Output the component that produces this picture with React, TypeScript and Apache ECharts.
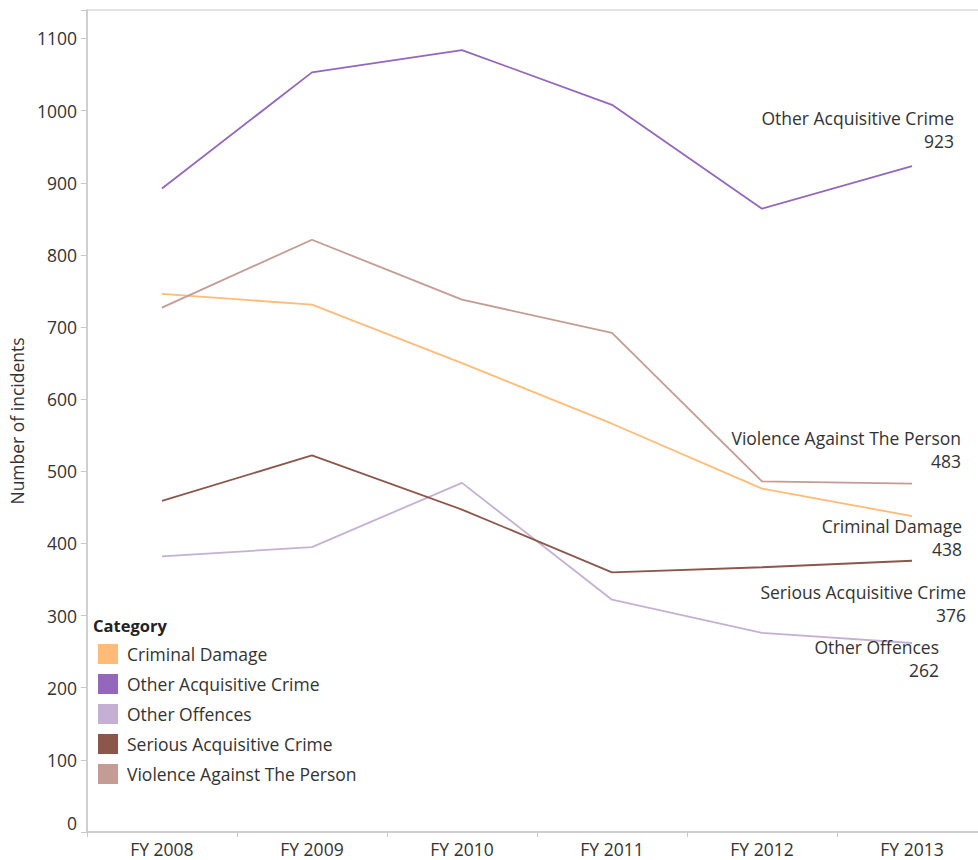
import React, { useEffect, useRef } from "react";
import * as echarts from "echarts";

const categories = ["FY 2008", "FY 2009", "FY 2010", "FY 2011", "FY 2012", "FY 2013"];
const criminalDamage = [746, 731, 650, 566, 476, 438];
const otherAcquisitive = [892, 1053, 1084, 1008, 864, 923];
const otherOffences = [382, 395, 484, 322, 276, 262];
const seriousAcquisitive = [459, 522, 447, 360, 367, 376];
const violenceAgainstPerson = [727, 821, 738, 692, 486, 483];
const yTicks = [0, 100, 200, 300, 400, 500, 600, 700, 800, 900, 1000, 1100];

const FONT = "Open Sans";
const FS = 17.5;
const TEXT = "#333333";
const AXIS = "#c8c8c8";

type S = { name: string; data: number[]; color: string; offset: [number, number] };
const seriesDefs: S[] = [
  { name: "Criminal Damage", data: criminalDamage, color: "#ffbb78", offset: [50, 21] },
  { name: "Other Acquisitive Crime", data: otherAcquisitive, color: "#9467bd", offset: [42, -37] },
  { name: "Other Offences", data: otherOffences, color: "#c5b0d5", offset: [27, 15] },
  { name: "Serious Acquisitive Crime", data: seriousAcquisitive, color: "#8c564b", offset: [54, 43] },
  { name: "Violence Against The Person", data: violenceAgainstPerson, color: "#c49c94", offset: [49, -34] },
];

export default function App() {
  const ref = useRef<HTMLDivElement>(null);
  useEffect(() => {
    if (!ref.current) return;
    const chart = echarts.init(ref.current, undefined, { renderer: "svg" });
    const last = categories.length - 1;
    chart.setOption({
      animation: false,
      backgroundColor: "#ffffff",
      textStyle: { fontFamily: FONT },
      title: {
        text: "Category",
        left: 88,
        top: 612,
        textStyle: { fontFamily: FONT, fontSize: 16.5, fontWeight: "bold", color: "#222" },
      },
      legend: {
        orient: "vertical",
        left: 93,
        top: 639,
        icon: "rect",
        itemWidth: 20,
        itemHeight: 20,
        itemGap: 10,
        textStyle: { fontFamily: FONT, fontSize: FS, color: TEXT, padding: [0, 0, 0, 4] },
        data: seriesDefs.map((s) => s.name),
      },
      grid: {
        left: 86,
        top: 10,
        right: 13,
        bottom: 28,
        show: true,
        borderColor: AXIS,
        borderWidth: 1,
        containLabel: false,
      },
      xAxis: {
        type: "category",
        data: categories,
        boundaryGap: true,
        axisLine: { lineStyle: { color: AXIS, width: 1.5 } },
        axisTick: { show: true, length: 5, lineStyle: { color: AXIS } },
        axisLabel: { fontFamily: FONT, fontSize: FS, color: TEXT, margin: 8 },
      },
      yAxis: {
        type: "value",
        min: 0,
        max: 1139.5,
        interval: 100,
        name: "Number of incidents",
        nameLocation: "middle",
        nameRotate: 90,
        nameGap: 60,
        nameTextStyle: { fontFamily: FONT, fontSize: FS, color: TEXT },
        splitLine: { show: false },
        axisLine: { show: true, lineStyle: { color: AXIS, width: 1.5 } },
        axisTick: { show: true, length: 6, lineStyle: { color: AXIS } },
        axisLabel: {
          fontFamily: FONT,
          fontSize: FS,
          color: TEXT,
          margin: 10,
          formatter: (v: number) =>
            v === 0 ? "{z|0}" : yTicks.includes(v) ? String(v) : "",
          rich: {
            z: { fontFamily: FONT, fontSize: FS, color: TEXT, padding: [0, 0, 18, 0] },
          },
        },
      },
      series: seriesDefs.map((s) => ({
        name: s.name,
        type: "line",
        data: s.data,
        color: s.color,
        showSymbol: false,
        symbol: "none",
        lineStyle: { width: 1.8, color: s.color },
        itemStyle: { color: s.color },
        emphasis: { disabled: true },
        markPoint: {
          symbol: "circle",
          symbolSize: 0,
          silent: true,
          data: [
            {
              coord: [categories[last], s.data[last]],
              value: s.data[last],
              label: {
                show: true,
                position: "inside",
                formatter: s.name + "\n" + s.data[last],
                align: "right",
                verticalAlign: "middle",
                offset: s.offset,
                fontFamily: FONT,
                fontSize: FS,
                lineHeight: 23,
                color: TEXT,
              },
            },
          ],
        },
      })),
    });
    return () => chart.dispose();
  }, []);
  return (
    <div
      style={{
        position: "absolute",
        left: 0,
        top: 0,
        width: 978,
        height: 860,
        overflow: "hidden",
      }}
    >
      <div ref={ref} style={{ width: 1000, height: 860 }} />
    </div>
  );
}
